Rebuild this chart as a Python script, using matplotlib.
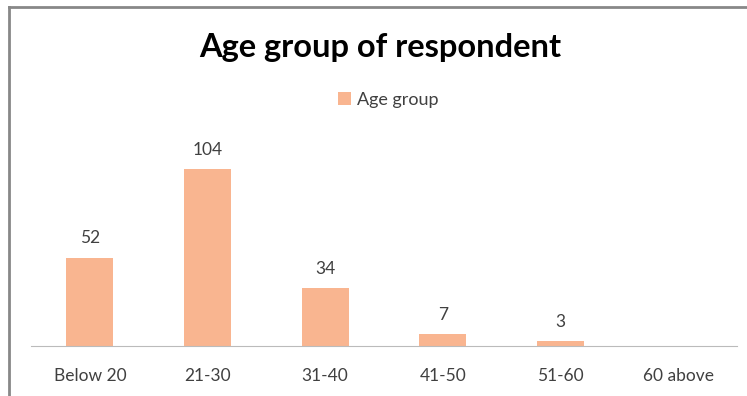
import matplotlib.pyplot as plt
from matplotlib.lines import Line2D

categories = ['Below 20', '21-30', '31-40', '41-50', '51-60', '60 above']
counts = [52, 104, 34, 7, 3, 0]
labels = ['52', '104', '34', '7', '3', '']

plt.rcParams['font.family'] = ['Lato', 'DejaVu Sans']

fig = plt.figure(figsize=(7.47, 3.96), dpi=100)
ax = fig.add_axes([31/747, 50/396, 706/747, 204/396])

bars = ax.bar(categories, counts, width=0.4, color='#F9B590', label='Age group')
ax.bar_label(bars, labels=labels, padding=8, fontsize=12.5, color='#404040')

ax.set_ylim(0, 120)
ax.set_xlim(-0.5, 5.5)
ax.set_yticks([])
for s in ['top', 'right', 'left']:
    ax.spines[s].set_visible(False)
ax.spines['bottom'].set_color('#BBBBBB')
ax.tick_params(axis='x', length=0, pad=16, labelsize=12.5, labelcolor='#404040')

fig.text(380/747, 1 - 47/396, 'Age group of respondent', ha='center', va='center',
         fontsize=23.5, fontweight='bold', color='black')
fig.legend(loc='center', bbox_to_anchor=(388/747, 1 - 100/396), frameon=False,
           fontsize=13, handlelength=0.75, handleheight=0.75, handletextpad=0.3,
           labelcolor='#404040')

fig.add_artist(Line2D([9/747, 9/747], [0, 1 - 6.5/396], color='#888888', lw=2))
fig.add_artist(Line2D([9/747, 1], [1 - 6.5/396, 1 - 6.5/396], color='#888888', lw=2))

fig.savefig('out.png', dpi=100)
